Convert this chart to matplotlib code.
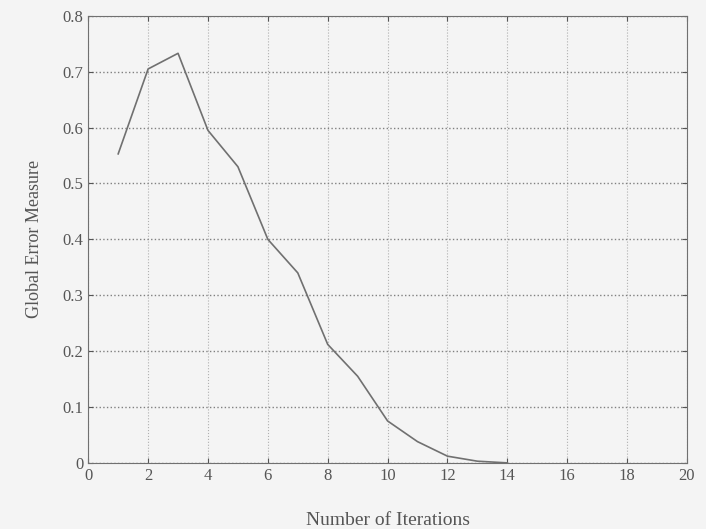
import numpy as np
import matplotlib.pyplot as plt

iterations = [1, 2, 3, 4, 5, 6, 7, 8, 9, 10, 11, 12, 13, 14]
global_error = [0.553, 0.705, 0.733, 0.595, 0.530, 0.400, 0.340, 0.212, 0.155, 0.075, 0.038, 0.012, 0.003, 0.0]

plt.rcParams['font.family'] = ['Liberation Serif', 'DejaVu Serif']

fig = plt.figure(figsize=(7.06, 5.29), dpi=100)
fig.patch.set_facecolor('#f4f4f4')
ax = fig.add_axes([0.125, 0.125, 0.848, 0.845])
ax.set_facecolor('#f4f4f4')

ax.plot(iterations, global_error, color='#707070', lw=1.2)

ax.set_xlim(0, 20)
ax.set_ylim(0, 0.8)
ax.set_xticks(np.arange(0, 21, 2))
ax.set_yticks(np.arange(0, 0.81, 0.1))
ax.set_yticklabels(['0', '0.1', '0.2', '0.3', '0.4', '0.5', '0.6', '0.7', '0.8'])
ax.yaxis.grid(True, linestyle=':', color='#808080', lw=1.0)
ax.xaxis.grid(True, linestyle=':', color='#b0b0b0', lw=0.8)
ax.tick_params(direction='in', labelsize=12, colors='#555555', top=True, right=True)
for s in ax.spines.values():
    s.set_color('#707070')

ax.set_xlabel('Number of Iterations', fontsize=14, color='#555555', labelpad=20)
ax.set_ylabel('Global Error Measure', fontsize=13, color='#555555', labelpad=14)

fig.savefig('out.png', dpi=100, facecolor=fig.get_facecolor())
